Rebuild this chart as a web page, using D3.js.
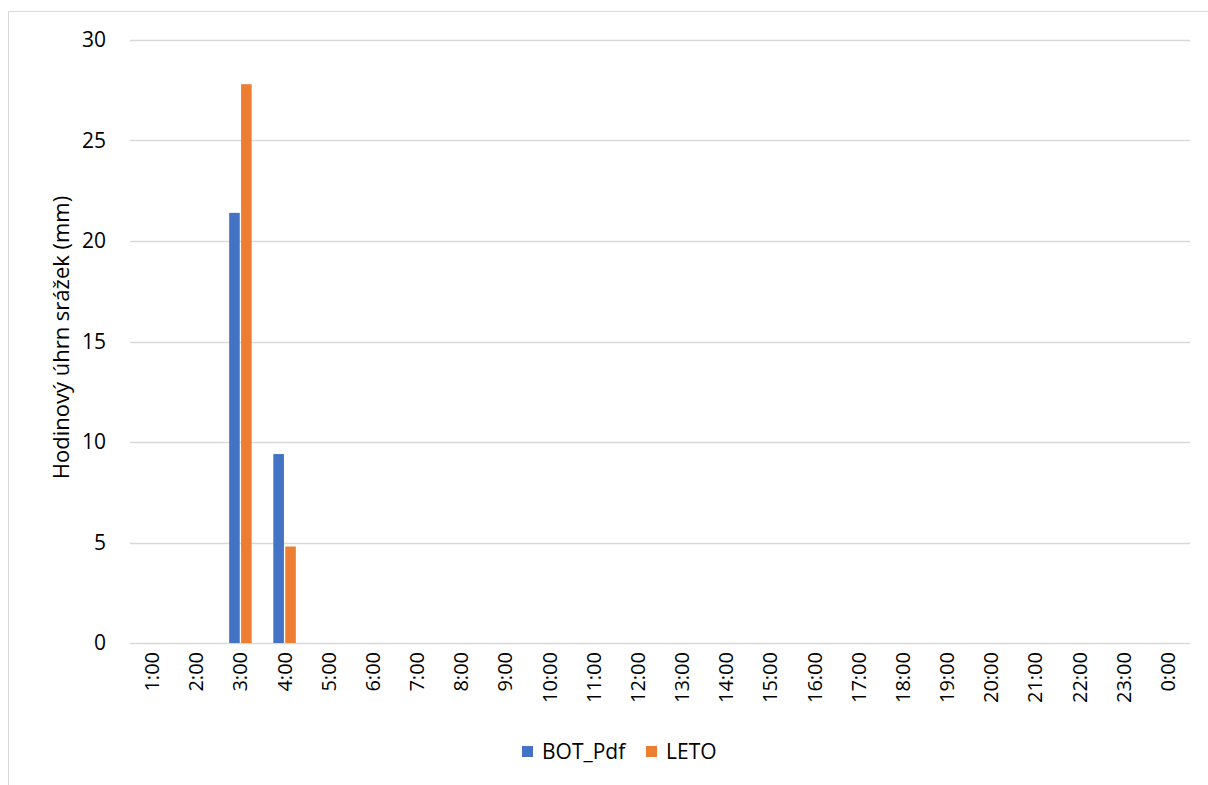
<!DOCTYPE html>
<html>
<head>
<meta charset="utf-8">
<script src="https://cdn.jsdelivr.net/npm/d3@7"></script>
<style>
  html, body { margin: 0; padding: 0; background: #fff; }
  svg text { font-family: "Open Sans", "Liberation Sans", sans-serif; fill: #000; }
</style>
</head>
<body>
<svg id="chart" width="1208" height="785"></svg>
<script>
// Hourly precipitation totals (mm) for two stations
const hours = ["1:00","2:00","3:00","4:00","5:00","6:00","7:00","8:00","9:00","10:00","11:00","12:00",
               "13:00","14:00","15:00","16:00","17:00","18:00","19:00","20:00","21:00","22:00","23:00","0:00"];
const botPdf = [0, 0, 21.4, 9.4, 0, 0, 0, 0, 0, 0, 0, 0, 0, 0, 0, 0, 0, 0, 0, 0, 0, 0, 0, 0];
const leto   = [0, 0, 27.8, 4.8, 0, 0, 0, 0, 0, 0, 0, 0, 0, 0, 0, 0, 0, 0, 0, 0, 0, 0, 0, 0];
const seriesNames = ["BOT_Pdf", "LETO"];
const seriesColors = ["#4472c4", "#ed7d31"];
const yTicks = [0, 5, 10, 15, 20, 25, 30];
const yTitle = "Hodinový úhrn srážek (mm)";

const svg = d3.select("#chart");
const plot = { left: 130, right: 1190, top: 40, bottom: 643 };
const yTickFs = 21, xTickFs = 20, titleFs = 22, legendFs = 21;

// chart area frame
svg.append("rect")
  .attr("x", 8.5).attr("y", 11.5)
  .attr("width", 1220).attr("height", 800)
  .attr("fill", "none").attr("stroke", "#d9d9d9").attr("stroke-width", 1);

const x = d3.scaleBand().domain(hours).range([plot.left, plot.right]);
const y = d3.scaleLinear().domain([0, 30]).range([plot.bottom, plot.top]);

// horizontal gridlines
svg.append("g").selectAll("line").data(yTicks).join("line")
  .attr("x1", plot.left).attr("x2", plot.right)
  .attr("y1", d => Math.round(y(d)) + 0.5).attr("y2", d => Math.round(y(d)) + 0.5)
  .attr("stroke", "#d9d9d9").attr("stroke-width", 1.3);

// y tick labels
svg.append("g").selectAll("text").data(yTicks).join("text")
  .attr("x", 106).attr("y", d => y(d))
  .attr("dy", "0.35em").attr("text-anchor", "end")
  .attr("font-size", yTickFs)
  .text(d => d);

// bars
const barW = 10, barGap = 2.5;
const series = [botPdf, leto];
const inner = d3.scaleBand().domain(seriesNames)
  .range([-(barW + barGap / 2), barW + barGap / 2]).paddingInner(barGap / (2 * barW + barGap));

series.forEach((vals, si) => {
  svg.append("g").selectAll("rect")
    .data(vals.map((v, i) => ({ h: hours[i], v })).filter(d => d.v > 0))
    .join("rect")
    .attr("x", d => x(d.h) + x.bandwidth() / 2 + inner(seriesNames[si]))
    .attr("width", inner.bandwidth())
    .attr("y", d => y(d.v))
    .attr("height", d => y(0) - y(d.v))
    .attr("fill", seriesColors[si]);
});

// x tick labels, rotated
svg.append("g").selectAll("text").data(hours).join("text")
  .attr("transform", d => `translate(${x(d) + x.bandwidth() / 2},${plot.bottom + 9}) rotate(-90)`)
  .attr("text-anchor", "end").attr("dy", "0.35em")
  .attr("font-size", xTickFs)
  .text(d => d);

// y axis title
svg.append("text")
  .attr("transform", `translate(61,${(plot.top + plot.bottom) / 2 - 4}) rotate(-90)`)
  .attr("text-anchor", "middle").attr("dy", "0.35em")
  .attr("font-size", titleFs)
  .text(yTitle);

// legend
const legend = svg.append("g");
const legendX = [522, 646];
seriesNames.forEach((name, i) => {
  legend.append("rect")
    .attr("x", legendX[i]).attr("y", 746).attr("width", 11).attr("height", 11)
    .attr("fill", seriesColors[i]);
  legend.append("text")
    .attr("x", legendX[i] + 20).attr("y", 752).attr("dy", "0.35em")
    .attr("font-size", legendFs)
    .text(name);
});
</script>
</body>
</html>
